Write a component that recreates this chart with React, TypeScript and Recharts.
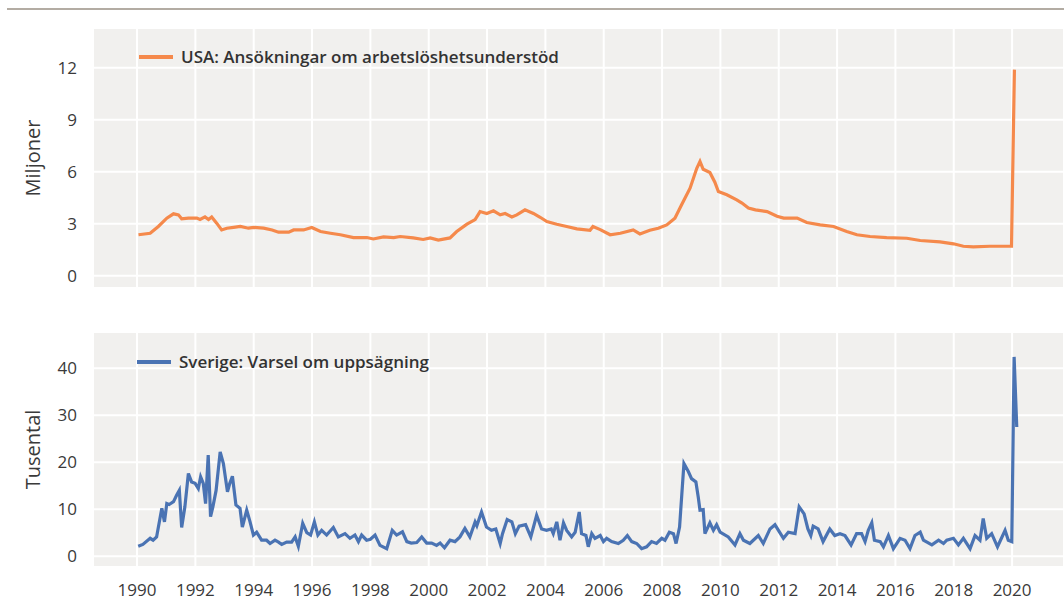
import React from 'react'
import { LineChart, Line, XAxis, YAxis, CartesianGrid, Legend } from 'recharts'

// USA: initial jobless claims, millions
const usaYears = [
  1990.05, 1990.45, 1990.73, 1991.02, 1991.25, 1991.42, 1991.53, 1991.76, 1992.05, 1992.16,
  1992.33, 1992.45, 1992.56, 1992.73, 1992.9, 1993.08, 1993.31, 1993.54, 1993.82, 1994.0,
  1994.34, 1994.63, 1994.85, 1995.2, 1995.37, 1995.71, 1995.99, 1996.29, 1996.63, 1996.97,
  1997.42, 1997.88, 1998.1, 1998.45, 1998.8, 1999.02, 1999.47, 1999.81, 2000.05, 2000.33,
  2000.73, 2000.96, 2001.31, 2001.59, 2001.76, 2001.99, 2002.22, 2002.45, 2002.62, 2002.85,
  2003.02, 2003.3, 2003.59, 2003.82, 2004.05, 2004.39, 2004.73, 2005.08, 2005.53, 2005.63,
  2005.88, 2006.22, 2006.57, 2007.01, 2007.24, 2007.58, 2007.87, 2008.16, 2008.44, 2008.67,
  2008.96, 2009.19, 2009.3, 2009.41, 2009.64, 2009.81, 2009.93, 2010.22, 2010.56, 2010.74,
  2010.96, 2011.2, 2011.6, 2011.94, 2012.17, 2012.63, 2012.96, 2013.42, 2013.88, 2014.33,
  2014.68, 2015.13, 2015.7, 2016.39, 2016.85, 2017.53, 2017.99, 2018.33, 2018.67, 2019.24,
  2019.98, 2020.08,
]
const usaValues = [
  2.37, 2.46, 2.85, 3.33, 3.58, 3.52, 3.29, 3.33, 3.33, 3.25,
  3.4, 3.25, 3.4, 3.04, 2.65, 2.75, 2.8, 2.85, 2.75, 2.8,
  2.75, 2.65, 2.52, 2.52, 2.65, 2.65, 2.79, 2.56, 2.46, 2.37,
  2.21, 2.21, 2.13, 2.25, 2.21, 2.27, 2.19, 2.1, 2.19, 2.06,
  2.19, 2.56, 2.98, 3.25, 3.71, 3.6, 3.75, 3.52, 3.6, 3.4,
  3.52, 3.81, 3.6, 3.38, 3.13, 2.98, 2.85, 2.71, 2.63, 2.85,
  2.67, 2.37, 2.46, 2.65, 2.42, 2.63, 2.75, 2.94, 3.33, 4.1,
  5.06, 6.21, 6.6, 6.15, 5.96, 5.4, 4.87, 4.68, 4.39, 4.2,
  3.92, 3.81, 3.71, 3.44, 3.33, 3.33, 3.08, 2.94, 2.85, 2.56,
  2.37, 2.27, 2.21, 2.17, 2.04, 1.96, 1.85, 1.71, 1.67, 1.71,
  1.71, 11.9,
]

// Sverige: varsel om uppsägning, thousands
const seYears = [
  1990.04, 1990.2, 1990.45, 1990.55, 1990.67, 1990.85, 1990.94, 1991.02, 1991.1, 1991.25,
  1991.36, 1991.45, 1991.53, 1991.64, 1991.76, 1991.87, 1991.99, 1992.1, 1992.18, 1992.27,
  1992.35, 1992.44, 1992.52, 1992.6, 1992.71, 1992.85, 1992.96, 1993.1, 1993.18, 1993.27,
  1993.39, 1993.53, 1993.61, 1993.76, 1993.87, 1993.99, 1994.1, 1994.27, 1994.44, 1994.56,
  1994.73, 1994.85, 1994.96, 1995.13, 1995.3, 1995.42, 1995.53, 1995.68, 1995.82, 1995.95,
  1996.08, 1996.2, 1996.33, 1996.5, 1996.73, 1996.9, 1997.13, 1997.3, 1997.47, 1997.59,
  1997.7, 1997.87, 1998.0, 1998.16, 1998.33, 1998.56, 1998.75, 1998.9, 1999.1, 1999.25,
  1999.4, 1999.59, 1999.76, 1999.93, 2000.1, 2000.27, 2000.39, 2000.54, 2000.73, 2000.9,
  2001.07, 2001.24, 2001.41, 2001.59, 2001.65, 2001.81, 2001.98, 2002.15, 2002.3, 2002.45,
  2002.53, 2002.69, 2002.85, 2002.97, 2003.1, 2003.32, 2003.5, 2003.7, 2003.87, 2004.04,
  2004.2, 2004.27, 2004.39, 2004.5, 2004.62, 2004.73, 2004.9, 2005.02, 2005.16, 2005.24,
  2005.39, 2005.47, 2005.59, 2005.7, 2005.88, 2005.99, 2006.1, 2006.27, 2006.5, 2006.67,
  2006.81, 2006.96, 2007.13, 2007.3, 2007.47, 2007.64, 2007.81, 2007.99, 2008.1, 2008.25,
  2008.39, 2008.48, 2008.6, 2008.75, 2008.9, 2009.01, 2009.16, 2009.24, 2009.3, 2009.41,
  2009.47, 2009.64, 2009.76, 2009.87, 2009.99, 2010.27, 2010.5, 2010.67, 2010.79, 2011.01,
  2011.3, 2011.47, 2011.7, 2011.87, 2011.99, 2012.16, 2012.33, 2012.56, 2012.7, 2012.87,
  2013.0, 2013.1, 2013.18, 2013.35, 2013.52, 2013.75, 2013.92, 2014.1, 2014.27, 2014.48,
  2014.67, 2014.84, 2014.96, 2015.07, 2015.19, 2015.28, 2015.48, 2015.59, 2015.76, 2015.93,
  2016.16, 2016.33, 2016.5, 2016.67, 2016.85, 2016.96, 2017.25, 2017.48, 2017.65, 2017.76,
  2017.99, 2018.16, 2018.33, 2018.56, 2018.73, 2018.9, 2019.01, 2019.13, 2019.3, 2019.5,
  2019.76, 2019.87, 2019.99, 2020.07, 2020.16,
]
const seValues = [
  2.1, 2.5, 3.8, 3.4, 4.1, 10.2, 7.3, 11.2, 11.0, 11.6,
  13.0, 14.0, 6.1, 10.5, 17.6, 15.8, 15.5, 14.4, 16.9, 15.5,
  11.2, 21.5, 8.4, 10.5, 14.0, 22.2, 19.7, 13.7, 15.5, 17.0,
  10.9, 10.2, 6.2, 9.8, 7.4, 4.5, 5.1, 3.4, 3.4, 2.7,
  3.4, 3.0, 2.5, 3.0, 3.0, 4.1, 2.1, 7.0, 5.0, 4.5,
  7.3, 4.5, 5.5, 4.5, 6.1, 4.1, 4.8, 3.8, 4.5, 3.1,
  4.5, 3.4, 3.6, 4.5, 2.3, 1.6, 5.5, 4.5, 5.2, 3.1,
  2.8, 2.9, 4.1, 2.8, 2.8, 2.3, 2.8, 1.8, 3.4, 3.1,
  4.1, 5.9, 4.1, 7.3, 6.5, 9.4, 6.2, 5.5, 5.8, 2.7,
  4.8, 7.8, 7.3, 4.8, 6.4, 6.7, 4.1, 8.7, 5.8, 5.5,
  5.8, 4.8, 7.3, 3.4, 7.1, 5.5, 4.1, 5.1, 9.4, 4.8,
  4.4, 2.0, 4.8, 3.8, 4.4, 3.1, 3.8, 3.1, 2.7, 3.4,
  4.4, 3.1, 2.7, 1.6, 2.0, 3.1, 2.7, 3.8, 3.4, 5.1,
  4.8, 2.7, 6.2, 19.7, 18.0, 16.5, 15.8, 12.6, 9.8, 9.9,
  4.8, 7.1, 5.5, 6.7, 5.1, 4.1, 2.4, 4.8, 3.4, 2.7,
  4.4, 2.7, 5.8, 6.7, 5.5, 3.8, 5.1, 4.8, 10.5, 9.0,
  5.8, 4.4, 6.4, 5.8, 3.1, 5.8, 4.4, 4.8, 4.4, 2.4,
  4.8, 4.8, 3.1, 5.5, 7.1, 3.4, 3.1, 2.0, 4.4, 1.6,
  3.8, 3.4, 1.6, 4.4, 5.1, 3.4, 2.4, 3.4, 2.7, 3.4,
  3.8, 2.4, 3.8, 1.6, 4.4, 3.4, 8.0, 3.8, 4.8, 2.0,
  5.5, 3.4, 3.1, 42.4, 27.5,
]

const yearTicks = [1990, 1992, 1994, 1996, 1998, 2000, 2002, 2004, 2006, 2008, 2010, 2012, 2014, 2016, 2018, 2020]
const usaTicks = [0, 3, 6, 9, 12]
const seTicks = [0, 10, 20, 30, 40]

const usaData = usaYears.map((t, i) => ({ t, v: usaValues[i] }))
const seData = seYears.map((t, i) => ({ t, v: seValues[i] }))

const FONT = '"Open Sans", "Noto Sans", sans-serif'
const TEXT = '#3a3a3a'
const PANEL = '#f1f0ee'
const X_DOMAIN = [1988.49, 2021.78]

const tickStyle = { fontSize: 17, fill: TEXT, fontFamily: FONT }

// legend: short thick line + semi-bold label
const renderLegend = (props: any) => {
  const item = props.payload?.[0]
  if (!item) return null
  return (
    <div style={{ display: 'flex', alignItems: 'center', fontFamily: FONT }}>
      <svg width={34} height={6} style={{ marginRight: 8 }}>
        <line x1={0} y1={3} x2={34} y2={3} stroke={item.color} strokeWidth={4} />
      </svg>
      <span style={{ fontSize: 17, fontWeight: 600, color: '#333', whiteSpace: 'nowrap' }}>{item.value}</span>
    </div>
  )
}

// rotated axis title centred on the plot height
const axisTitle = (text: string) => (props: any) => {
  const vb = props.viewBox
  const cx = 32
  const cy = vb.y + vb.height / 2
  return (
    <text
      x={cx}
      y={cy}
      transform={`rotate(-90, ${cx}, ${cy})`}
      textAnchor="middle"
      dominantBaseline="central"
      fontSize={20}
      fontWeight={500}
      fill={TEXT}
      fontFamily={FONT}
    >
      {text}
    </text>
  )
}

export default function App() {
  return (
    <div style={{ position: 'absolute', left: 0, top: 0, width: 1064, height: 600, background: '#fff', overflow: 'hidden' }}>
      <div style={{ position: 'absolute', left: 7, top: 8, width: 1057, height: 2, background: '#b3aca3' }} />

      <div style={{ position: 'absolute', left: 0, top: 0 }}>
        <LineChart width={1064} height={300} data={usaData} margin={{ top: 28, right: 0, bottom: 12, left: 0 }}>
          <CartesianGrid fill={PANEL} stroke="#ffffff" strokeWidth={2} />
          <XAxis dataKey="t" type="number" domain={X_DOMAIN} ticks={yearTicks} allowDataOverflow hide />
          <YAxis
            type="number"
            domain={[-0.7, 14.3]}
            ticks={usaTicks}
            interval={0}
            width={93}
            axisLine={false}
            tickLine={false}
            tickSize={0}
            tickMargin={16}
            tick={tickStyle}
            label={{ content: axisTitle('Miljoner') }}
          />
          <Legend
            layout="vertical"
            align="center"
            verticalAlign="middle"
            content={renderLegend}
            wrapperStyle={{ left: 139, top: 45, width: 'auto' }}
          />
          <Line
            type="linear"
            dataKey="v"
            name="USA: Ansökningar om arbetslöshetsunderstöd"
            stroke="#f5894b"
            strokeWidth={3.2}
            dot={false}
            isAnimationActive={false}
          />
        </LineChart>
      </div>

      <div style={{ position: 'absolute', left: 0, top: 310 }}>
        <LineChart width={1064} height={290} data={seData} margin={{ top: 22, right: 0, bottom: 0, left: 0 }}>
          <CartesianGrid fill={PANEL} stroke="#ffffff" strokeWidth={2} />
          <XAxis
            dataKey="t"
            type="number"
            domain={X_DOMAIN}
            ticks={yearTicks}
            interval={0}
            allowDataOverflow
            height={33}
            axisLine={false}
            tickLine={false}
            tickSize={0}
            tickMargin={17}
            tick={tickStyle}
          />
          <YAxis
            type="number"
            domain={[-2.3, 47.7]}
            ticks={seTicks}
            interval={0}
            width={93}
            axisLine={false}
            tickLine={false}
            tickSize={0}
            tickMargin={16}
            tick={tickStyle}
            label={{ content: axisTitle('Tusental') }}
          />
          <Legend
            layout="vertical"
            align="center"
            verticalAlign="middle"
            content={renderLegend}
            wrapperStyle={{ left: 137, top: 40, width: 'auto' }}
          />
          <Line
            type="linear"
            dataKey="v"
            name="Sverige: Varsel om uppsägning"
            stroke="#4a73b3"
            strokeWidth={3.2}
            dot={false}
            isAnimationActive={false}
          />
        </LineChart>
      </div>
    </div>
  )
}
